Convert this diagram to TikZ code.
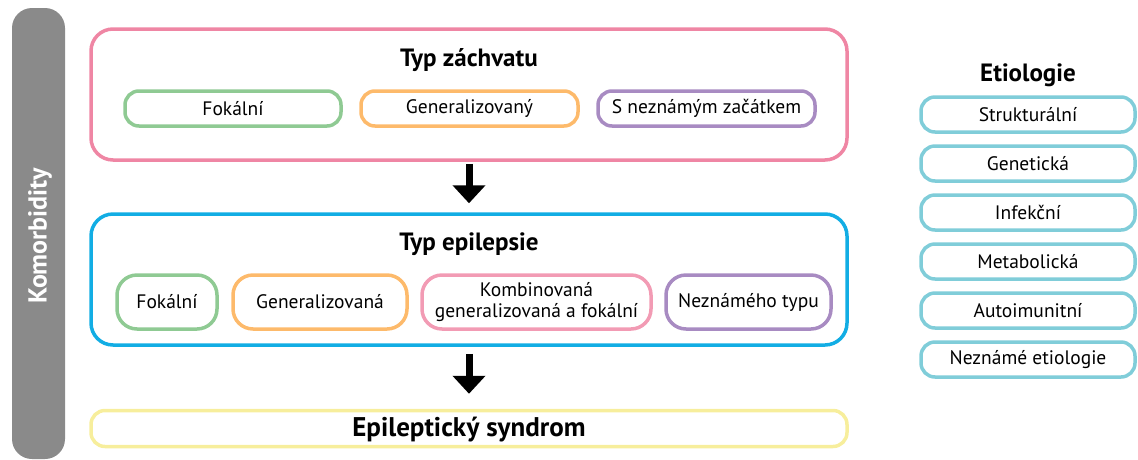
\documentclass[tikz,border=0pt]{standalone}
\usepackage{fontspec}
\setmainfont{PT Sans}
\usetikzlibrary{arrows.meta}
\definecolor{cpink}{HTML}{EF86A4}
\definecolor{cgreen}{HTML}{8FCA93}
\definecolor{corange}{HTML}{FDBA6B}
\definecolor{cpurple}{HTML}{A88BC2}
\definecolor{cblue}{HTML}{12ADE4}
\definecolor{cyellow}{HTML}{F7EE9C}
\definecolor{cteal}{HTML}{80CDD9}
\definecolor{cgrey}{HTML}{8A8A8A}
\definecolor{cpinkb}{HTML}{F29BB4}
\tikzset{
  bigbox/.style={draw=#1, line width=3.5pt, rounded corners=22pt, minimum width=756pt, inner sep=0pt},
  smallbox/.style={draw=#1, line width=3.5pt, rounded corners=14pt, minimum height=35pt, inner sep=0pt, font=\fontsize{19.5}{22}\selectfont},
  epibox/.style={draw=#1, line width=3.5pt, rounded corners=20pt, minimum height=54pt, inner sep=0pt, align=center, font=\fontsize{19.5}{21}\selectfont},
  etbox/.style={draw=cteal, line width=3.5pt, rounded corners=14pt, minimum width=214pt, minimum height=35pt, inner sep=0pt, font=\fontsize{19.5}{22}\selectfont},
  title/.style={font=\bfseries\fontsize{25}{28}\selectfont},
  bigarrow/.style={line width=7pt, -{Triangle[width=32pt,length=18pt]}}
}
\begin{document}
\begin{tikzpicture}[x=1pt,y=-1pt]
\useasboundingbox (0,0) rectangle (1138,459);
% Comorbidity bar
\node[fill=cgrey, rounded corners=20pt, minimum width=53pt, minimum height=451pt, inner sep=0pt] (kom) at (38.5,233.5) {};
\node[rotate=90, text=white, font=\bfseries\fontsize{26}{28}\selectfont] (komt) at (40,236) {Komorbidity};
% Seizure type
\node[bigbox=cpink, minimum height=131pt] (sz) at (469,94.5) {};
\node[title] (szt) at (469,60) {Typ záchvatu};
\node[smallbox=cgreen, minimum width=216pt] (s1) at (233,108.5) {Fokální};
\node[smallbox=corange, minimum width=217pt] (s2) at (469.5,108.5) {Generalizovaný};
\node[smallbox=cpurple, minimum width=217pt] (s3) at (706.5,108.5) {S neznámým začátkem};
% Epilepsy type
\node[bigbox=cblue, minimum height=131pt] (ep) at (469,279.5) {};
\node[title] (ept) at (469,244) {Typ epilepsie};
\node[epibox=cgreen, minimum width=100pt] (e1) at (167,302) {Fokální};
\node[epibox=corange, minimum width=174pt] (e2) at (320,302) {Generalizovaná};
\node[epibox=cpinkb, minimum width=229pt] (e3) at (536.5,302) {Kombinovaná\\generalizovaná a fokální};
\node[epibox=cpurple, minimum width=165pt] (e4) at (748.5,302) {Neznámého typu};
% Syndrome
\node[bigbox=cyellow, minimum height=36pt, rounded corners=14pt] (sy) at (469,428.5) {};
\node[font=\bfseries\fontsize{27}{30}\selectfont] (syt) at (469,430) {Epileptický syndrom};
% Arrows
\draw[bigarrow] ([yshift=-2pt]sz.south -| szt) -- ([yshift=9pt]ep.north -| szt);
\draw[bigarrow] ([yshift=-7pt]ep.south -| szt) -- ([yshift=15pt]sy.north -| szt);
% Etiology
\node[title] (ett) at (1028,75) {Etiologie};
\node[etbox] (t1) at (1028,114.5) {Strukturální};
\node[etbox] (t2) at (1028,163.5) {Genetická};
\node[etbox] (t3) at (1028,212.5) {Infekční};
\node[etbox] (t4) at (1028,261.5) {Metabolická};
\node[etbox] (t5) at (1028,310.5) {Autoimunitní};
\node[etbox] (t6) at (1028,359.5) {Neznámé etiologie};
\end{tikzpicture}
\end{document}
